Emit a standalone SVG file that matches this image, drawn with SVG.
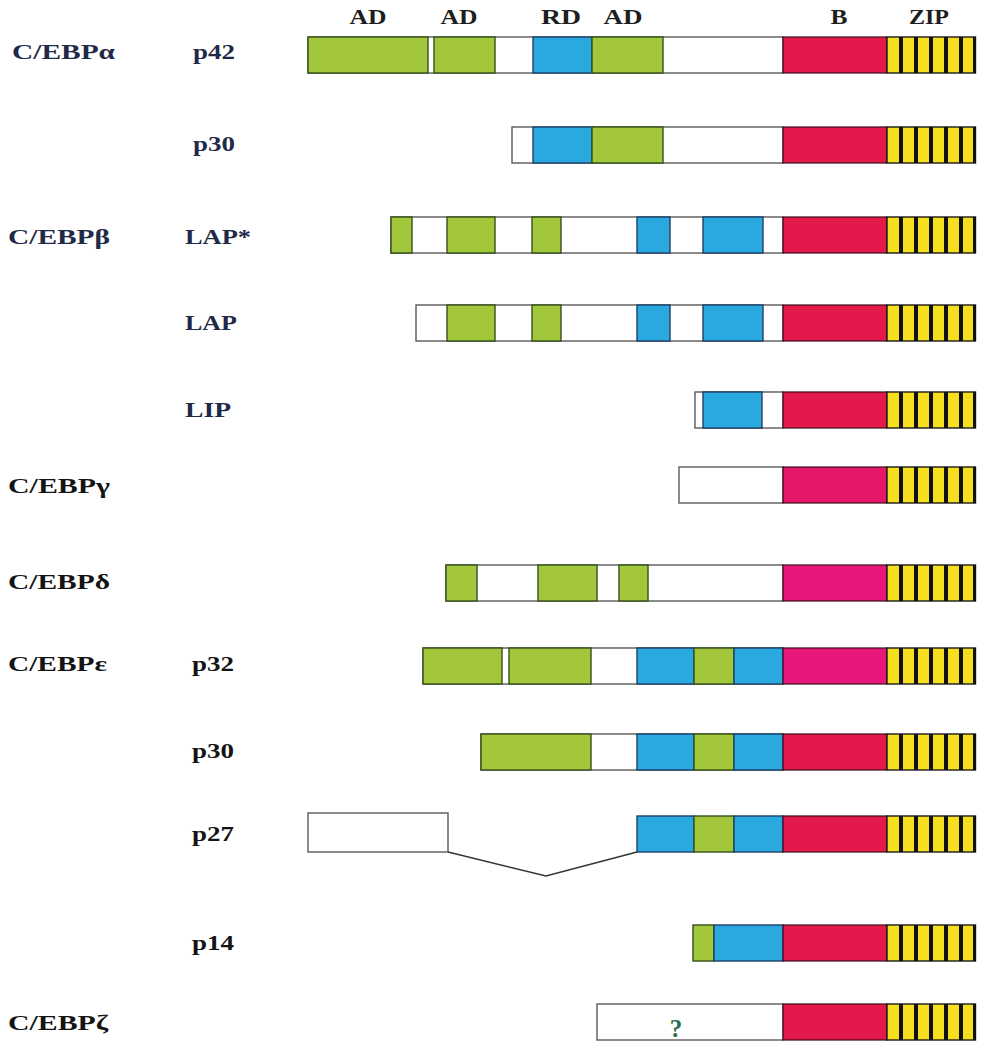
<svg xmlns="http://www.w3.org/2000/svg" width="985" height="1050" viewBox="0 0 985 1050">
<style>
.g{fill:#a2c73b;stroke:#34511c;stroke-width:1.4}
.b{fill:#2aa8e0;stroke:#1d4068;stroke-width:1.4}
.w{fill:#ffffff;stroke:#5a5a5a;stroke-width:1.4}
.lbl{font-family:"Liberation Serif","Times New Roman",serif;font-weight:bold;font-size:21px;fill:#1f2a48}
.lbk{font-family:"Liberation Serif","Times New Roman",serif;font-weight:bold;font-size:21px;fill:#141414}
.hdr{font-family:"Liberation Serif","Times New Roman",serif;font-weight:bold;font-size:22px;fill:#1e1e1e;text-anchor:middle}
.q{font-family:"Liberation Serif","Times New Roman",serif;font-weight:bold;font-size:25px;fill:#2d6b4f;text-anchor:middle}
.conn{fill:none;stroke:#333;stroke-width:1.4}
</style>
<defs>
<g id="bzip">
<rect x="783" y="0" width="104" height="36" stroke="#3a0d18" stroke-width="1.2"/>
<rect x="887" y="0" width="88.5" height="36" fill="#f6df1e" stroke="#1a1a1a" stroke-width="1.4"/>
<rect x="899" y="0" width="4" height="36" fill="#111"/>
<rect x="914" y="0" width="4" height="36" fill="#111"/>
<rect x="929" y="0" width="4" height="36" fill="#111"/>
<rect x="944" y="0" width="4" height="36" fill="#111"/>
<rect x="959" y="0" width="4" height="36" fill="#111"/>
<rect x="973" y="0" width="3" height="36" fill="#111"/>
</g>
</defs>
<rect width="985" height="1050" fill="#ffffff"/>

<g id="header">
<text class="hdr" x="368" y="24" textLength="37" lengthAdjust="spacingAndGlyphs">AD</text>
<text class="hdr" x="459" y="24" textLength="37" lengthAdjust="spacingAndGlyphs">AD</text>
<text class="hdr" x="561" y="24" textLength="40" lengthAdjust="spacingAndGlyphs">RD</text>
<text class="hdr" x="623" y="24" textLength="39" lengthAdjust="spacingAndGlyphs">AD</text>
<text class="hdr" x="839" y="24" textLength="17" lengthAdjust="spacingAndGlyphs">B</text>
<text class="hdr" x="929" y="24" textLength="40" lengthAdjust="spacingAndGlyphs">ZIP</text>
</g>

<g id="alpha-p42">
<text class="lbl" x="12" y="59" textLength="103" lengthAdjust="spacingAndGlyphs">C/EBPα</text>
<text class="lbl" x="193" y="59" textLength="42" lengthAdjust="spacingAndGlyphs">p42</text>
<rect class="w" x="308" y="37" width="475" height="36"/>
<rect class="g" x="308" y="37" width="120" height="36"/>
<rect class="g" x="434" y="37" width="61" height="36"/>
<rect class="b" x="533" y="37" width="59" height="36"/>
<rect class="g" x="592" y="37" width="71" height="36"/>
<use href="#bzip" y="37" fill="#e3194c"/>
</g>

<g id="alpha-p30">
<text class="lbl" x="193" y="151" textLength="42" lengthAdjust="spacingAndGlyphs">p30</text>
<rect class="w" x="512" y="127" width="271" height="36"/>
<rect class="b" x="533" y="127" width="59" height="36"/>
<rect class="g" x="592" y="127" width="71" height="36"/>
<use href="#bzip" y="127" fill="#e3194c"/>
</g>

<g id="beta-lapstar">
<text class="lbl" x="8" y="244" textLength="102" lengthAdjust="spacingAndGlyphs">C/EBPβ</text>
<text class="lbl" x="185" y="244" textLength="66" lengthAdjust="spacingAndGlyphs">LAP*</text>
<rect class="w" x="391" y="217" width="392" height="36"/>
<rect class="g" x="391" y="217" width="21" height="36"/>
<rect class="g" x="447" y="217" width="48" height="36"/>
<rect class="g" x="532" y="217" width="29" height="36"/>
<rect class="b" x="637" y="217" width="33" height="36"/>
<rect class="b" x="703" y="217" width="60" height="36"/>
<use href="#bzip" y="217" fill="#e3194c"/>
</g>

<g id="beta-lap">
<text class="lbl" x="185" y="330" textLength="52" lengthAdjust="spacingAndGlyphs">LAP</text>
<rect class="w" x="416" y="305" width="367" height="36"/>
<rect class="g" x="447" y="305" width="48" height="36"/>
<rect class="g" x="532" y="305" width="29" height="36"/>
<rect class="b" x="637" y="305" width="33" height="36"/>
<rect class="b" x="703" y="305" width="60" height="36"/>
<use href="#bzip" y="305" fill="#e3194c"/>
</g>

<g id="beta-lip">
<text class="lbl" x="185" y="417" textLength="46" lengthAdjust="spacingAndGlyphs">LIP</text>
<rect class="w" x="695" y="392" width="88" height="36"/>
<rect class="b" x="703" y="392" width="59" height="36"/>
<use href="#bzip" y="392" fill="#e3194c"/>
</g>

<g id="gamma">
<text class="lbk" x="8" y="493" textLength="102" lengthAdjust="spacingAndGlyphs">C/EBPγ</text>
<rect class="w" x="679" y="467" width="104" height="36"/>
<use href="#bzip" y="467" fill="#e5176a"/>
</g>

<g id="delta">
<text class="lbk" x="8" y="589" textLength="102" lengthAdjust="spacingAndGlyphs">C/EBPδ</text>
<rect class="w" x="446" y="565" width="337" height="36"/>
<rect class="g" x="446" y="565" width="31" height="36"/>
<rect class="g" x="538" y="565" width="59" height="36"/>
<rect class="g" x="619" y="565" width="29" height="36"/>
<use href="#bzip" y="565" fill="#e8177a"/>
</g>

<g id="epsilon-p32">
<text class="lbk" x="8" y="671" textLength="99" lengthAdjust="spacingAndGlyphs">C/EBPε</text>
<text class="lbk" x="192" y="671" textLength="42" lengthAdjust="spacingAndGlyphs">p32</text>
<rect class="w" x="423" y="648" width="360" height="36"/>
<rect class="g" x="423" y="648" width="79" height="36"/>
<rect class="g" x="509" y="648" width="82" height="36"/>
<rect class="b" x="637" y="648" width="57" height="36"/>
<rect class="g" x="694" y="648" width="40" height="36"/>
<rect class="b" x="734" y="648" width="49" height="36"/>
<use href="#bzip" y="648" fill="#e8177a"/>
</g>

<g id="epsilon-p30">
<text class="lbk" x="192" y="758" textLength="42" lengthAdjust="spacingAndGlyphs">p30</text>
<rect class="w" x="481" y="734" width="302" height="36"/>
<rect class="g" x="481" y="734" width="110" height="36"/>
<rect class="b" x="637" y="734" width="57" height="36"/>
<rect class="g" x="694" y="734" width="40" height="36"/>
<rect class="b" x="734" y="734" width="49" height="36"/>
<use href="#bzip" y="734" fill="#e3194c"/>
</g>

<g id="epsilon-p27">
<text class="lbk" x="192" y="841" textLength="42" lengthAdjust="spacingAndGlyphs">p27</text>
<rect class="w" x="308" y="813" width="140" height="39"/>
<rect class="b" x="637" y="816" width="57" height="36"/>
<rect class="g" x="694" y="816" width="40" height="36"/>
<rect class="b" x="734" y="816" width="49" height="36"/>
<use href="#bzip" y="816" fill="#e3194c"/>
</g>

<g id="epsilon-p14">
<text class="lbk" x="192" y="950" textLength="42" lengthAdjust="spacingAndGlyphs">p14</text>
<rect class="g" x="693" y="925" width="21" height="36"/>
<rect class="b" x="714" y="925" width="69" height="36"/>
<use href="#bzip" y="925" fill="#e3194c"/>
</g>

<g id="zeta">
<text class="lbk" x="8" y="1030" textLength="100" lengthAdjust="spacingAndGlyphs">C/EBPζ</text>
<rect class="w" x="597" y="1004" width="186" height="36"/>
<text class="q" x="676" y="1037">?</text>
<use href="#bzip" y="1004" fill="#e3194c"/>
</g>

<g id="connectors">
<polyline class="conn" points="448,852 546,876 637,852"/>
</g>
</svg>
